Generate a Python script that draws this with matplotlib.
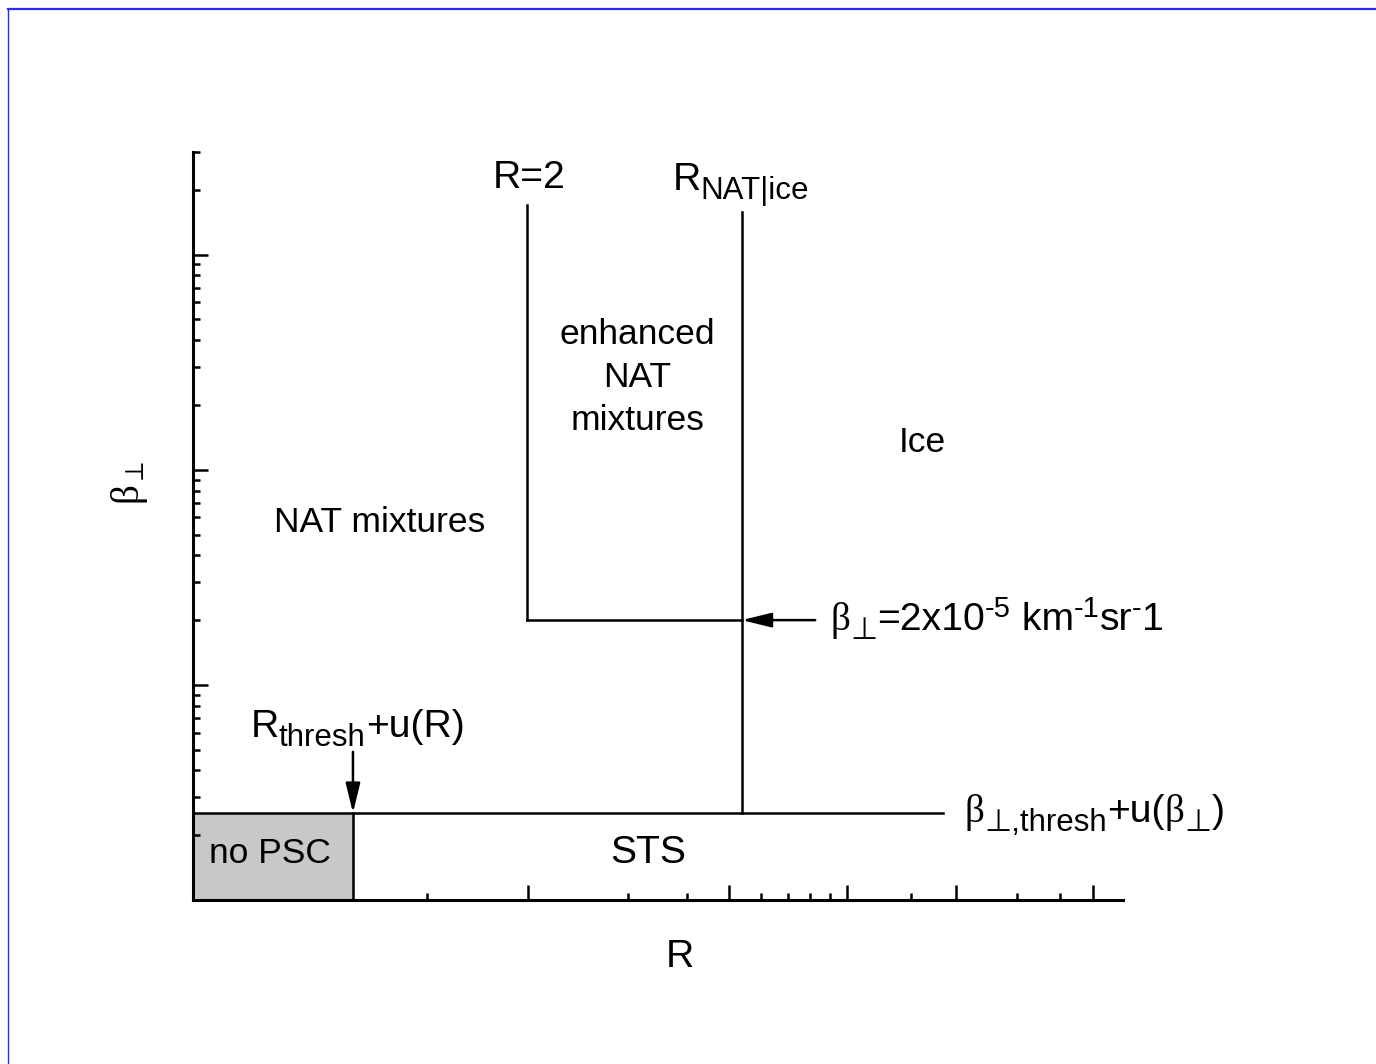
import matplotlib
matplotlib.use("Agg")
import matplotlib.pyplot as plt
from matplotlib.lines import Line2D
from matplotlib.ticker import FixedLocator, NullFormatter
from matplotlib.transforms import IdentityTransform

plt.rcParams['font.family'] = ['Liberation Sans', 'DejaVu Sans']
plt.rcParams['mathtext.fontset'] = 'custom'
plt.rcParams['mathtext.rm'] = 'Liberation Sans'
plt.rcParams['mathtext.it'] = 'Liberation Serif'
plt.rcParams['mathtext.bf'] = 'Liberation Sans:bold'
plt.rcParams['mathtext.fallback'] = 'stixsans'

# ---- schematic data (x: schematic R position 0-100, y: beta_perp, log scale) ----
x_range = [0, 100]
y_range = [1e-6, 3e-3]
x_thresh = 17.2          # R_thresh + u(R)
x_R2 = 35.9              # R = 2
x_natice = 59.0          # R_NAT|ice
x_thresh_line_end = 80.6
x_arrow_start = 66.9
y_thresh = 2.54e-6       # beta_thresh + u(beta)
y_beta2 = 2e-5           # beta = 2e-5 km-1 sr-1
y_R2_top = 1.71e-3
y_natice_top = 1.57e-3
y_arrow_R_start = 4.88e-6

x_major_ticks = [36.0, 57.6, 70.3, 82.0, 96.8]
x_minor_ticks = [25.2, 46.8, 53.1, 61.1, 64.0, 66.3, 68.5, 77.2, 88.6, 93.2]
y_major_ticks = [1e-5, 1e-4, 1e-3]
y_minor_mult = [2, 3, 4, 5, 6, 7, 8, 9]
y_minor_decades = [1e-6, 1e-5, 1e-4, 1e-3]

fs = 25.5      # region labels
fl = 28.2      # larger labels
fsub = 22.5    # subscripts
fsup = 21.0    # superscripts
SANS = ['Liberation Sans', 'DejaVu Sans']
BETA = ['Liberation Serif', 'DejaVu Serif']
PERP = ['DejaVu Sans']

fig = plt.figure(figsize=(13.76, 10.64), dpi=100)
ax = fig.add_axes([193/1376, (1064-900)/1064, 930/1376, 748/1064])
ax.set_xlim(*x_range)
ax.set_yscale('log')
ax.set_ylim(*y_range)

for s in ['top', 'right']:
    ax.spines[s].set_visible(False)
for s in ['left', 'bottom']:
    ax.spines[s].set_linewidth(2.2)
    ax.spines[s].set_zorder(5)

ax.xaxis.set_major_locator(FixedLocator(x_major_ticks))
ax.xaxis.set_minor_locator(FixedLocator(x_minor_ticks))
ax.yaxis.set_major_locator(FixedLocator(y_major_ticks))
ymin_ticks = [m * d for d in y_minor_decades for m in y_minor_mult if m * d <= y_range[1] * 1.0001]
ax.yaxis.set_minor_locator(FixedLocator(ymin_ticks))
for axis in (ax.xaxis, ax.yaxis):
    axis.set_major_formatter(NullFormatter())
    axis.set_minor_formatter(NullFormatter())
ax.tick_params(which='major', direction='in', length=10.5, width=1.8)
ax.tick_params(which='minor', direction='in', length=5, width=1.8)

lw = 1.8
# no PSC box
ax.fill_between([x_range[0], x_thresh], y_range[0], y_thresh, color='#c8c8c8', zorder=1)
ax.plot([x_thresh, x_thresh], [y_range[0], y_thresh], color='k', lw=lw, zorder=3)
# threshold line
ax.plot([x_range[0], x_thresh_line_end], [y_thresh, y_thresh], color='k', lw=lw, zorder=3)
# R=2 line and beta=2e-5 line
ax.plot([x_R2, x_R2], [y_R2_top, y_beta2], color='k', lw=lw, zorder=3)
ax.plot([x_R2, x_natice], [y_beta2, y_beta2], color='k', lw=lw, zorder=3)
# R_NAT|ice line
ax.plot([x_natice, x_natice], [y_natice_top, y_thresh], color='k', lw=lw, zorder=3)

# arrows
ap = dict(arrowstyle='-|>,head_length=0.9,head_width=0.22', color='k', lw=lw,
          shrinkA=0, shrinkB=0, mutation_scale=20)
ax.annotate('', xy=(x_natice, y_beta2), xytext=(x_arrow_start, y_beta2), arrowprops=ap, zorder=4)
ax.annotate('', xy=(x_thresh, y_thresh), xytext=(x_thresh, y_arrow_R_start), arrowprops=ap, zorder=4)

renderer = fig.canvas.get_renderer()


def rich(x, y, parts, ha='left'):
    """parts: (string, fontsize, baseline shift px, family). (x, y) = baseline anchor in data."""
    X, Y = ax.transData.transform((x, y))
    arts, widths = [], []
    for s, size, dy, fam in parts:
        t = fig.text(0, 0, s, fontsize=size, family=fam, ha='left', va='baseline',
                     transform=IdentityTransform())
        arts.append((t, dy))
        widths.append(t.get_window_extent(renderer).width)
    total = sum(widths)
    cx = X - total / 2 if ha == 'center' else X
    for (t, dy), w in zip(arts, widths):
        t.set_position((cx, Y + dy))
        cx += w


# texts
ax.text(36.2, 2.28e-3, 'R=2', fontsize=fl, ha='center', va='center')
rich(58.9, 1.99e-3, [('R', fl, 0, SANS), ('NAT|ice', fsub, -9, SANS)], ha='center')
ax.text(47.8, 2.68e-4, 'enhanced\nNAT\nmixtures', fontsize=fs, ha='center', va='center',
        linespacing=1.38)
ax.text(78.4, 1.34e-4, 'Ice', fontsize=fs, ha='center', va='center')
ax.text(20.1, 5.67e-5, 'NAT mixtures', fontsize=fs, ha='center', va='center')
rich(68.5, 1.80e-5, [('β', fl, 0, BETA), ('⊥', fsub, -9, PERP), ('=2x10', fl, 0, SANS),
                     ('-5', fsup, 13, SANS), (' km', fl, 0, SANS), ('-1', fsup, 13, SANS),
                     ('sr', fl, 0, SANS), ('-', fsup, 13, SANS), ('1', fl, 0, SANS)])
rich(83.0, 2.31e-6, [('β', fl, 0, BETA), ('⊥,thresh', fsub, -9, SANS), ('+u(', fl, 0, SANS),
                     ('β', fl, 0, BETA), ('⊥', fsub, -9, PERP), (')', fl, 0, SANS)])
rich(17.7, 5.73e-6, [('R', fl, 0, SANS), ('thresh', fsub, -9, SANS), ('+u(R)', fl, 0, SANS)],
     ha='center')
ax.text(49.0, 1.65e-6, 'STS', fontsize=fl, ha='center', va='center')
ax.text(8.3, 1.65e-6, 'no PSC', fontsize=fs, ha='center', va='center')

fig.text(680/1376, 1 - 957/1064, 'R', fontsize=fl, ha='center', va='center')
fig.text(130/1376, 1 - 483/1064, r'$\beta_{\perp}$', fontsize=fl, ha='center', va='center',
         rotation=90)

# blue frame (top and left edges)
fig.add_artist(Line2D([8/1376, 1], [1 - 8.5/1064, 1 - 8.5/1064], color='#2a2aff', lw=1.6))
fig.add_artist(Line2D([8/1376, 8/1376], [0, 1 - 8.5/1064], color='#2a2aff', lw=1.0))

fig.savefig('out.png', dpi=100)
